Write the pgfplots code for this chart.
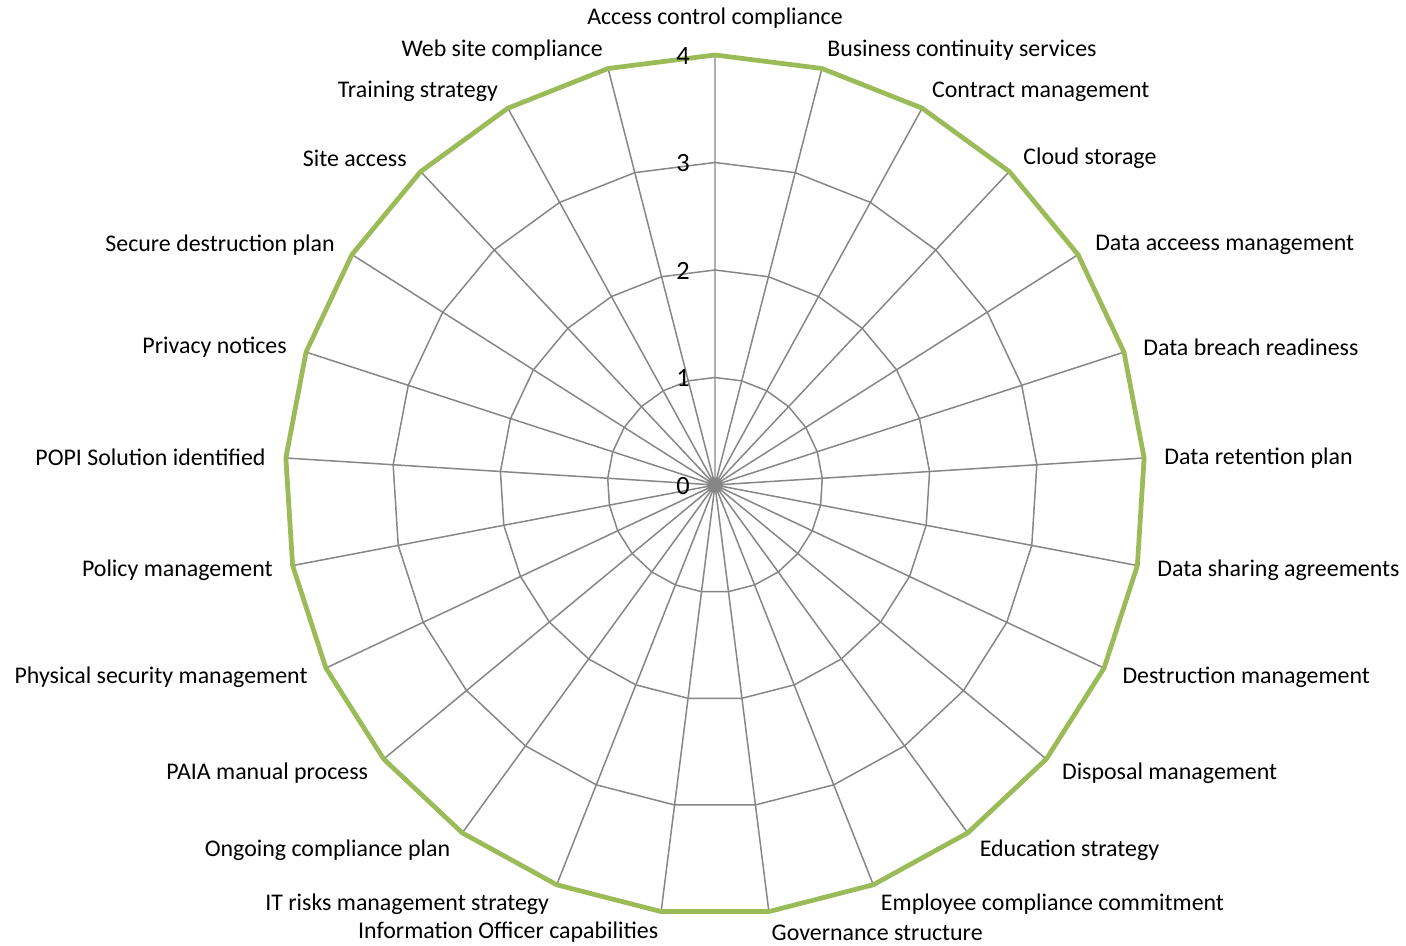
\documentclass[border=0pt]{standalone}
\usepackage{pgfplots}
\pgfplotsset{compat=1.18}
\usepackage{pgfplotstable}
\usepackage{fontspec}
\setmainfont{Carlito}

\definecolor{gridgray}{HTML}{868686}
\definecolor{radargreen}{HTML}{9BBB59}

% angle (degrees, counter-clockwise from x axis) and score for each item
\pgfplotstableread{
angle value
90 4
75.6 4
61.2 4
46.8 4
32.4 4
18 4
3.6 4
-10.8 4
-25.2 4
-39.6 4
-54 4
-68.4 4
-82.8 4
-97.2 4
-111.6 4
-126 4
-140.4 4
-154.8 4
-169.2 4
-183.6 4
-198 4
-212.4 4
-226.8 4
-241.2 4
-255.6 4
-270 4
}\scores

\begin{document}
\begin{tikzpicture}
% 1px = 0.02cm, centre of the radar at (715,485)px
\useasboundingbox (-14.30,-9.22) rectangle (13.82,9.70);
\begin{axis}[
    x=2.15cm, y=2.15cm,
    xmin=-4, xmax=4, ymin=-4, ymax=4,
    anchor=origin, at={(0,0)},
    hide axis, clip=false,
    data cs=polar,
]
% rings
\addplot[gridgray, line width=0.85pt, mark=none] table[x=angle, y expr=1] {\scores};
\addplot[gridgray, line width=0.85pt, mark=none] table[x=angle, y expr=2] {\scores};
\addplot[gridgray, line width=0.85pt, mark=none] table[x=angle, y expr=3] {\scores};
% spokes
\addplot[gridgray, line width=0.85pt, mark=none] coordinates {
(0,0)(90,4)(0,0)(75.6,4)(0,0)(61.2,4)(0,0)(46.8,4)(0,0)(32.4,4)
(0,0)(18,4)(0,0)(3.6,4)(0,0)(-10.8,4)(0,0)(-25.2,4)(0,0)(-39.6,4)
(0,0)(-54,4)(0,0)(-68.4,4)(0,0)(-82.8,4)(0,0)(-97.2,4)(0,0)(-111.6,4)
(0,0)(-126,4)(0,0)(-140.4,4)(0,0)(-154.8,4)(0,0)(-169.2,4)(0,0)(-183.6,4)
(0,0)(-198,4)(0,0)(-212.4,4)(0,0)(-226.8,4)(0,0)(-241.2,4)(0,0)(-255.6,4)
};
% series
\addplot[radargreen, line width=2.7pt, mark=none, line join=round] table[x=angle, y=value] {\scores};
\end{axis}

% radial tick labels
\foreach \r in {0,1,2,3,4}
  \node[font=\fontsize{15}{18}\selectfont, inner sep=0pt] at (-0.64, {\r*2.15-0.02}) {\r};

% category labels
\def\R{9.0}
\begin{scope}[yshift=-0.02cm]
\node[font=\fontsize{13.6}{16}\selectfont, inner sep=0pt] at (0,9.36) {Access control compliance};
\foreach \i/\t in {1/Business continuity services, 2/Contract management, 3/Cloud storage,
  4/Data acceess management, 5/Data breach readiness, 6/Data retention plan,
  7/Data sharing agreements, 8/Destruction management, 9/Disposal management,
  10/Education strategy, 11/Employee compliance commitment, 12/Governance structure}
  \node[font=\fontsize{13.6}{16}\selectfont, inner sep=0pt, anchor=west] at ({90-14.4*\i}:\R) {\t};
\foreach \i/\t in {13/Information Officer capabilities, 14/IT risks management strategy,
  15/Ongoing compliance plan, 16/PAIA manual process, 17/Physical security management,
  18/Policy management, 19/POPI Solution identified, 20/Privacy notices,
  21/Secure destruction plan, 22/Site access, 23/Training strategy, 24/Web site compliance}
  \node[font=\fontsize{13.6}{16}\selectfont, inner sep=0pt, anchor=east] at ({90-14.4*\i}:\R) {\t};
\end{scope}
\end{tikzpicture}
\end{document}
